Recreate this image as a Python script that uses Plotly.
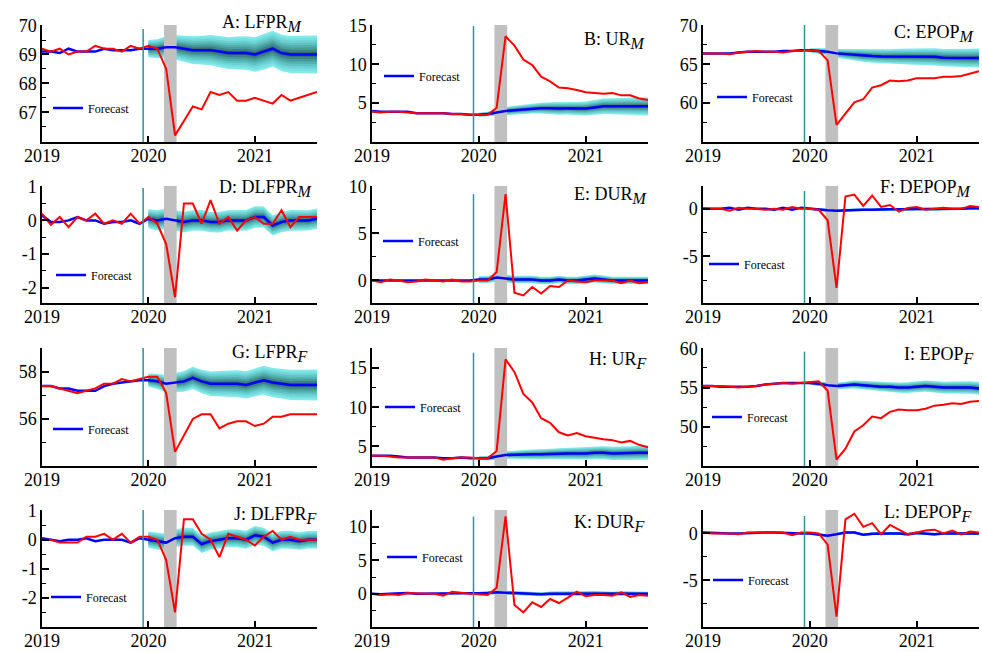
import plotly.graph_objects as go
from plotly.subplots import make_subplots

W, H = 982, 652

# monthly dates, Jan 2019 .. Aug 2021 (decimal years)
months = [2019 + i / 12 for i in range(32)]
FC_START = 12  # forecast starts Jan 2020

origin_x = 2019.95
covid_x0, covid_x1 = 2020.146, 2020.265

# ---- data: actual (red), fitted/forecast (blue), outer fan half-width ----
lfpr_m = [69.2, 69.1, 69.2, 69.0, 69.1, 69.1, 69.3, 69.2, 69.2, 69.1, 69.3, 69.2,
          69.3, 69.2, 68.5, 66.2, 66.7, 67.2, 67.1, 67.7, 67.6, 67.7, 67.4, 67.4,
          67.5, 67.4, 67.3, 67.6, 67.4, 67.5, 67.6, 67.7]
lfpr_m_fc = [69.1, 69.1, 69.05, 69.2, 69.1, 69.1, 69.1, 69.2, 69.15, 69.15, 69.15, 69.2,
             69.2, 69.2, 69.25, 69.25, 69.2, 69.15, 69.15, 69.15, 69.1, 69.05, 69.05, 69.05,
             69.0, 69.1, 69.2, 69.05, 69.0, 69.0, 69.0, 69.0]
lfpr_m_band = [0.30, 0.33, 0.38, 0.42, 0.45, 0.48, 0.50, 0.52, 0.54, 0.55,
               0.57, 0.58, 0.60, 0.62, 0.62, 0.63, 0.64, 0.65, 0.66, 0.66]

ur_m = [3.9, 3.8, 3.9, 3.9, 3.8, 3.7, 3.7, 3.7, 3.7, 3.6, 3.6, 3.5,
        3.5, 3.5, 4.4, 13.6, 12.4, 10.6, 9.9, 8.4, 7.8, 7.0, 6.9, 6.7,
        6.4, 6.3, 6.2, 6.3, 6.0, 6.0, 5.6, 5.4]
ur_m_fc = [4.0, 3.9, 3.9, 3.9, 3.9, 3.7, 3.7, 3.7, 3.7, 3.6, 3.6, 3.5,
           3.5, 3.6, 3.8, 4.0, 4.1, 4.2, 4.3, 4.35, 4.35, 4.3, 4.35, 4.3,
           4.3, 4.45, 4.6, 4.6, 4.6, 4.6, 4.6, 4.6]
ur_m_band = [0.25, 0.30, 0.40, 0.50, 0.55, 0.60, 0.65, 0.70, 0.75, 0.80,
             0.82, 0.85, 0.90, 0.95, 1.00, 1.02, 1.05, 1.10, 1.12, 1.15]

epop_m = [66.4, 66.4, 66.4, 66.3, 66.5, 66.6, 66.7, 66.6, 66.6, 66.5, 66.7, 66.7,
          66.8, 66.7, 65.5, 57.2, 58.6, 60.1, 60.5, 62.0, 62.3, 62.9, 62.8, 62.9,
          63.2, 63.2, 63.2, 63.4, 63.4, 63.5, 63.8, 64.1]
epop_m_fc = [66.4, 66.4, 66.4, 66.4, 66.5, 66.6, 66.6, 66.6, 66.6, 66.7, 66.7, 66.8,
             66.8, 66.7, 66.6, 66.4, 66.3, 66.2, 66.1, 66.05, 66.0, 66.0, 66.0, 66.0,
             66.0, 66.0, 65.95, 65.85, 65.8, 65.8, 65.8, 65.8]
epop_m_band = [0.25, 0.35, 0.45, 0.55, 0.65, 0.72, 0.78, 0.84, 0.90, 0.94,
               0.98, 1.02, 1.05, 1.08, 1.10, 1.12, 1.15, 1.18, 1.20, 1.22]

dlfpr_m = [0.2, -0.13, 0.1, -0.2, 0.1, 0.0, 0.2, -0.1, 0.0, -0.1, 0.2, -0.1,
           0.1, -0.1, -0.7, -2.28, 0.5, 0.5, -0.1, 0.6, -0.1, 0.1, -0.3, 0.0,
           0.1, -0.1, -0.1, 0.3, -0.2, 0.1, 0.1, 0.1]
dlfpr_m_fc = [0.15, -0.05, -0.05, 0.0, 0.1, 0.0, 0.0, -0.1, -0.05, -0.05, 0.0, -0.1,
              0.05, 0.0, 0.05, 0.0, -0.05, 0.0, 0.0, -0.05, -0.05, 0.0, 0.0, 0.0,
              0.1, 0.1, -0.15, -0.05, 0.0, 0.0, 0.0, 0.05]
dlfpr_m_band = [0.28, 0.30, 0.30, 0.30, 0.31, 0.30, 0.31, 0.30, 0.31, 0.30,
                0.30, 0.31, 0.32, 0.31, 0.30, 0.30, 0.31, 0.30, 0.30, 0.30]

dur_m = [0.0, -0.2, 0.1, 0.0, -0.2, -0.1, 0.1, 0.0, -0.1, 0.1, -0.1, -0.1,
         0.0, 0.0, 0.9, 9.2, -1.3, -1.6, -0.7, -1.4, -0.6, -0.7, 0.0, -0.1,
         -0.2, 0.0, 0.0, 0.0, -0.3, 0.0, -0.3, -0.2]
dur_m_fc = [0.0, 0.0, 0.05, 0.0, 0.0, 0.05, 0.0, 0.0, 0.0, 0.05, 0.0, 0.0,
            0.1, 0.1, 0.3, 0.2, 0.1, 0.1, 0.1, 0.0, 0.0, 0.1, 0.0, 0.0,
            0.1, 0.2, 0.1, 0.0, 0.0, 0.0, 0.0, 0.0]
dur_m_band = [0.35, 0.38, 0.40, 0.40, 0.40, 0.40, 0.40, 0.40, 0.40, 0.40,
              0.40, 0.40, 0.40, 0.42, 0.42, 0.40, 0.40, 0.40, 0.40, 0.40]

depop_m = [0.1, 0.0, 0.0, -0.2, 0.1, 0.0, 0.0, -0.1, 0.0, -0.1, 0.2, 0.0,
           0.0, -0.1, -1.2, -8.3, 1.3, 1.5, 0.3, 1.4, 0.2, 0.4, -0.3, 0.1,
           0.2, -0.1, 0.0, 0.1, 0.0, 0.0, 0.3, 0.2]
depop_m_fc = [0.0, 0.0, 0.0, 0.1, -0.1, 0.1, 0.0, 0.0, -0.1, 0.1, -0.1, 0.1,
              0.0, -0.1, -0.15, -0.2, -0.15, -0.1, -0.1, -0.1, -0.05, -0.05, -0.05, -0.05,
              0.0, 0.0, -0.05, 0.0, 0.0, 0.0, 0.05, 0.05]
depop_m_band = [0.12, 0.14, 0.15, 0.15, 0.15, 0.15, 0.15, 0.15, 0.15, 0.15,
                0.15, 0.15, 0.15, 0.15, 0.15, 0.15, 0.15, 0.15, 0.15, 0.15]

lfpr_f = [57.4, 57.4, 57.3, 57.2, 57.1, 57.2, 57.3, 57.5, 57.5, 57.7, 57.6, 57.7,
          57.8, 57.8, 57.1, 54.6, 55.3, 56.0, 56.2, 56.2, 55.6, 55.8, 55.9, 55.9,
          55.7, 55.8, 56.1, 56.1, 56.2, 56.2, 56.2, 56.2]
lfpr_f_fc = [57.4, 57.4, 57.3, 57.3, 57.2, 57.2, 57.2, 57.4, 57.5, 57.55, 57.6, 57.65,
             57.65, 57.6, 57.5, 57.55, 57.6, 57.75, 57.6, 57.5, 57.5, 57.5, 57.5, 57.45,
             57.55, 57.65, 57.55, 57.5, 57.45, 57.45, 57.45, 57.45]
lfpr_f_band = [0.28, 0.32, 0.36, 0.40, 0.44, 0.47, 0.50, 0.52, 0.54, 0.55,
               0.57, 0.58, 0.60, 0.61, 0.62, 0.63, 0.64, 0.65, 0.66, 0.66]

ur_f = [3.8, 3.8, 3.7, 3.6, 3.6, 3.6, 3.6, 3.6, 3.3, 3.5, 3.6, 3.6,
        3.5, 3.5, 4.4, 16.1, 14.5, 11.7, 10.6, 8.6, 8.0, 6.8, 6.4, 6.7,
        6.3, 6.1, 5.9, 5.8, 5.5, 5.7, 5.2, 4.9]
ur_f_fc = [3.8, 3.8, 3.8, 3.7, 3.6, 3.6, 3.6, 3.6, 3.5, 3.5, 3.6, 3.5,
           3.5, 3.5, 3.7, 3.9, 3.95, 4.0, 4.0, 4.0, 4.05, 4.1, 4.1, 4.1,
           4.1, 4.2, 4.2, 4.1, 4.1, 4.15, 4.2, 4.2]
ur_f_band = [0.25, 0.30, 0.38, 0.45, 0.50, 0.55, 0.60, 0.64, 0.68, 0.70,
             0.72, 0.75, 0.78, 0.80, 0.82, 0.84, 0.86, 0.88, 0.90, 0.90]

epop_f = [55.2, 55.2, 55.2, 55.1, 55.0, 55.1, 55.2, 55.4, 55.5, 55.6, 55.5, 55.6,
          55.7, 55.8, 54.6, 45.8, 47.2, 49.4, 50.2, 51.3, 51.1, 51.9, 52.2, 52.1,
          52.1, 52.3, 52.7, 52.8, 53.0, 52.9, 53.2, 53.3]
epop_f_fc = [55.2, 55.2, 55.1, 55.1, 55.1, 55.1, 55.2, 55.4, 55.5, 55.6, 55.6, 55.6,
             55.6, 55.5, 55.3, 55.2, 55.3, 55.4, 55.3, 55.2, 55.1, 55.1, 55.0, 55.0,
             55.1, 55.2, 55.1, 55.0, 55.0, 55.0, 55.0, 54.9]
epop_f_band = [0.25, 0.30, 0.35, 0.40, 0.45, 0.50, 0.54, 0.58, 0.60, 0.63,
               0.65, 0.68, 0.70, 0.72, 0.74, 0.76, 0.78, 0.78, 0.80, 0.80]

dlfpr_f = [0.0, 0.0, -0.1, -0.1, -0.1, 0.1, 0.1, 0.2, 0.0, 0.2, -0.1, 0.1,
           0.1, 0.0, -0.7, -2.5, 0.7, 0.7, 0.2, 0.0, -0.6, 0.2, 0.1, 0.0,
           -0.2, 0.1, 0.3, 0.0, 0.1, 0.0, 0.0, 0.0]
dlfpr_f_fc = [0.05, 0.0, -0.05, 0.0, 0.0, 0.05, -0.05, 0.0, 0.0, 0.0, -0.1, 0.05,
              0.0, -0.05, -0.1, 0.05, 0.1, 0.1, -0.15, -0.05, 0.0, 0.05, 0.05, 0.0,
              0.15, 0.1, -0.1, 0.0, 0.0, -0.05, 0.0, 0.0]
dlfpr_f_band = [0.28, 0.30, 0.30, 0.30, 0.31, 0.30, 0.31, 0.30, 0.31, 0.30,
                0.30, 0.31, 0.32, 0.31, 0.30, 0.30, 0.31, 0.30, 0.30, 0.30]

dur_f = [0.0, -0.2, -0.1, -0.2, 0.1, 0.0, 0.0, 0.0, -0.3, 0.3, 0.1, 0.0,
         -0.1, -0.2, 0.9, 11.6, -1.7, -2.8, -1.3, -2.0, -0.8, -1.4, -0.6, 0.3,
         -0.4, -0.2, -0.2, -0.3, 0.2, -0.5, -0.2, -0.3]
dur_f_fc = [0.0, -0.1, 0.0, 0.1, 0.1, 0.0, 0.0, 0.0, 0.0, 0.0, 0.0, 0.0,
            0.0, 0.1, 0.2, 0.15, 0.1, 0.05, 0.0, -0.1, 0.0, 0.0, 0.0, 0.0,
            0.05, 0.1, 0.05, 0.0, 0.05, 0.05, 0.0, 0.0]
dur_f_band = [0.28, 0.30, 0.30, 0.30, 0.31, 0.30, 0.31, 0.30, 0.31, 0.30,
              0.30, 0.31, 0.32, 0.31, 0.30, 0.30, 0.31, 0.30, 0.30, 0.30]

depop_f = [0.1, 0.0, 0.0, 0.0, -0.1, 0.1, 0.1, 0.1, 0.1, 0.1, -0.2, 0.1,
           0.1, 0.0, -1.2, -8.9, 1.5, 2.1, 0.7, 1.1, -0.1, 0.9, 0.4, -0.1,
           0.1, 0.3, 0.4, 0.0, 0.3, -0.1, 0.2, 0.1]
depop_f_fc = [0.1, 0.05, 0.0, 0.0, 0.0, 0.05, 0.1, 0.1, 0.1, 0.05, 0.0, 0.0,
              0.0, -0.1, -0.25, -0.1, 0.1, 0.1, -0.15, -0.05, 0.0, 0.0, 0.0, -0.1,
              0.05, 0.0, -0.1, 0.0, 0.0, 0.05, 0.0, 0.0]
depop_f_band = [0.12, 0.14, 0.15, 0.15, 0.15, 0.15, 0.15, 0.15, 0.15, 0.15,
                0.15, 0.15, 0.15, 0.15, 0.15, 0.15, 0.15, 0.15, 0.15, 0.15]

panels = [
    ("A: LFPR", "M", lfpr_m, lfpr_m_fc, lfpr_m_band),
    ("B: UR", "M", ur_m, ur_m_fc, ur_m_band),
    ("C: EPOP", "M", epop_m, epop_m_fc, epop_m_band),
    ("D: DLFPR", "M", dlfpr_m, dlfpr_m_fc, dlfpr_m_band),
    ("E: DUR", "M", dur_m, dur_m_fc, dur_m_band),
    ("F: DEPOP", "M", depop_m, depop_m_fc, depop_m_band),
    ("G: LFPR", "F", lfpr_f, lfpr_f_fc, lfpr_f_band),
    ("H: UR", "F", ur_f, ur_f_fc, ur_f_band),
    ("I: EPOP", "F", epop_f, epop_f_fc, epop_f_band),
    ("J: DLFPR", "F", dlfpr_f, dlfpr_f_fc, dlfpr_f_band),
    ("K: DUR", "F", dur_f, dur_f_fc, dur_f_band),
    ("L: DEPOP", "F", depop_f, depop_f_fc, depop_f_band),
]

# ---- axis setup per panel ----
y_ranges = [(65.97, 70.02), (0, 15.05), (55, 70.05),
            (-2.45, 1.02), (-2.4, 10.05), (-9.9, 2.4),
            (54, 59.02), (2.5, 17.55), (45, 60.05),
            (-3, 1.02), (-5, 12.55), (-10, 2.5)]
y_ticks = [[67, 68, 69, 70], [5, 10, 15], [60, 65, 70],
           [-2, -1, 0, 1], [0, 5, 10], [-5, 0],
           [56, 58], [5, 10, 15], [50, 55, 60],
           [-2, -1, 0, 1], [0, 5, 10], [-5, 0]]
y_minor = [[66.5, 67.5, 68.5, 69.5], [2.5, 7.5, 12.5], [57.5, 62.5, 67.5],
           [-1.5, -0.5, 0.5], [2.5, 7.5], [-7.5, -2.5],
           [55, 57, 59], [7.5, 12.5, 17.5], [47.5, 52.5, 57.5],
           [-2.5, -1.5, -0.5, 0.5], [-2.5, 2.5, 7.5], [-7.5, -2.5]]
vline_top = [0.966, 0.99, 1.0, 0.983, 0.93, 0.957, 1.0, 0.96, 0.969, 1.0, 0.943, 0.949]

col_px = [(42, 317), (372, 648), (703, 979)]
row_px = [(25, 142), (186, 303), (348, 466), (510, 627)]
title_px = [(220, 10), (582, 27), (892, 20), (217, 175), (572, 182), (878, 175),
            (230, 340), (587, 347), (902, 342), (232, 502), (572, 510), (882, 500)]
legend_px = [(54, 108), (385, 76), (718, 97), (57, 275), (384, 241), (710, 264),
             (54, 429), (386, 407), (713, 417), (52, 597), (388, 557), (714, 580)]

fan_levels = [1.0, 0.875, 0.75, 0.625, 0.5, 0.375, 0.25, 0.125]
fan_colors = ['rgb(130,234,234)', 'rgb(120,224,224)', 'rgb(108,210,210)', 'rgb(96,194,194)',
              'rgb(84,176,176)', 'rgb(72,155,155)', 'rgb(60,130,130)', 'rgb(50,105,105)']

SERIF = "Liberation Serif"

fig = make_subplots(rows=4, cols=3)

for k, (name, sub, actual, fitted, band) in enumerate(panels):
    r, c = k // 3 + 1, k % 3 + 1
    fx = months[FC_START:]
    fc = fitted[FC_START:]
    # fan chart, outer to inner
    for lev, col in zip(fan_levels, fan_colors):
        up = [m + lev * b for m, b in zip(fc, band)]
        lo = [m - lev * b for m, b in zip(fc, band)]
        fig.add_trace(go.Scatter(x=fx + fx[::-1], y=up + lo[::-1], fill='toself',
                                 fillcolor=col, line=dict(width=0), mode='lines',
                                 showlegend=False, hoverinfo='skip'), row=r, col=c)
    # lockdown shading
    y0, y1 = y_ranges[k]
    fig.add_trace(go.Scatter(x=[covid_x0, covid_x0, covid_x1, covid_x1], y=[y0, y1, y1, y0],
                             fill='toself', fillcolor='rgb(192,192,192)', line=dict(width=0),
                             mode='lines', showlegend=False, hoverinfo='skip'), row=r, col=c)
    legend_name = "legend" if k == 0 else "legend%d" % (k + 1)
    fig.add_trace(go.Scatter(x=months, y=fitted, mode='lines', name='Forecast',
                             line=dict(color='#0000ff', width=2.5), legend=legend_name),
                  row=r, col=c)
    fig.add_trace(go.Scatter(x=months, y=actual, mode='lines', showlegend=False,
                             line=dict(color='#ff0000', width=2)), row=r, col=c)

    xa = 'xaxis' if k == 0 else 'xaxis%d' % (k + 1)
    ya = 'yaxis' if k == 0 else 'yaxis%d' % (k + 1)
    cx, rx = col_px[c - 1], row_px[r - 1]
    fig.layout[xa].update(domain=[cx[0] / W, cx[1] / W], range=[2019, 2019 + 31 / 12],
                          tickvals=[2019, 2020, 2021], ticktext=['2019', '2020', '2021'],
                          ticks='inside', ticklen=6, tickwidth=1.5, tickcolor='black',
                          ticklabelstandoff=-3,
                          showline=True, linecolor='black', linewidth=1.5,
                          showgrid=False, zeroline=False, automargin=False,
                          tickfont=dict(family=SERIF, size=18, color='black'))
    fig.layout[ya].update(domain=[1 - rx[1] / H, 1 - rx[0] / H], range=list(y_ranges[k]),
                          tickvals=y_ticks[k], ticktext=['%g' % v for v in y_ticks[k]],
                          ticks='inside', ticklen=7, tickwidth=1.5, tickcolor='black',
                          minor=dict(tickvals=y_minor[k], ticks='inside', ticklen=4,
                                     tickwidth=1.2, tickcolor='black'),
                          showline=True, linecolor='black', linewidth=1.5,
                          showgrid=False, zeroline=False, automargin=False,
                          tickfont=dict(family=SERIF, size=18, color='black'))

    xref = 'x' if k == 0 else 'x%d' % (k + 1)
    yref = 'y' if k == 0 else 'y%d' % (k + 1)
    fig.add_shape(type='line', xref=xref, yref=yref + ' domain', x0=origin_x, x1=origin_x,
                  y0=0, y1=vline_top[k], line=dict(color='rgb(40,150,150)', width=1.5))

    tx, ty = title_px[k]
    fig.add_annotation(xref='paper', yref='paper', x=tx / W, y=1 - ty / H,
                       xanchor='left', yanchor='top', showarrow=False,
                       text='%s<sub><span style="font-size:16px"><i>%s</i></span></sub>' % (name, sub),
                       font=dict(family=SERIF, size=18, color='black'))

    lx, ly = legend_px[k]
    fig.layout[legend_name] = dict(x=(lx - 6) / W, y=1 - ly / H, xanchor='left', yanchor='middle',
                                   bgcolor='rgba(0,0,0,0)', itemwidth=30,
                                   font=dict(family=SERIF, size=12, color='black'))

fig.update_layout(width=W, height=H, margin=dict(l=0, r=0, t=0, b=0),
                  plot_bgcolor='white', paper_bgcolor='white', showlegend=True)

fig.write_html("out.html", config={'displayModeBar': False},
               post_script="document.body.style.margin='0';")
